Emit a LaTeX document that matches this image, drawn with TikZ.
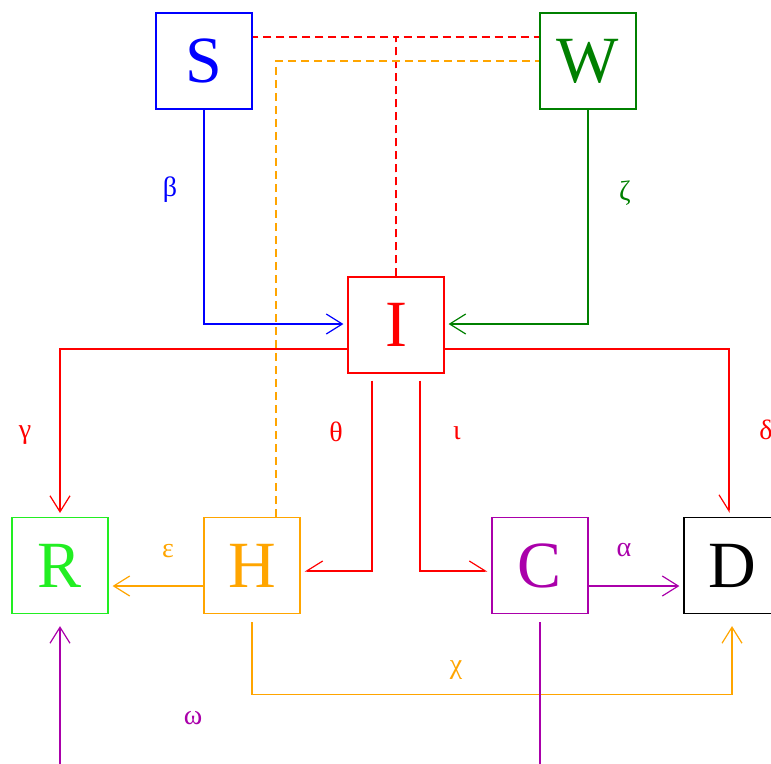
\documentclass[tikz,border=0pt]{standalone}
\usepackage{fontspec}
\setmainfont{Liberation Serif}
\usetikzlibrary{arrows.meta,calc}
\definecolor{cblue}{RGB}{0,0,255}
\definecolor{cgreen}{RGB}{0,128,0}
\definecolor{cred}{RGB}{255,0,0}
\definecolor{clime}{RGB}{34,238,34}
\definecolor{corange}{RGB}{255,165,0}
\definecolor{cpurple}{RGB}{170,0,170}
\tikzset{
  box/.style={draw, line width=1.2pt, minimum size=96pt, inner sep=0pt, font=\fontsize{66}{66}\selectfont},
  conn/.style={line width=1.2pt},
  arr/.style={conn, -{Straight Barb[length=16pt,width=20pt,line width=1.2pt]}, shorten >=4pt},
  harrL/.style={conn, -{Straight Barb[length=16pt,width=20pt,line width=1.2pt,left]}, shorten >=4pt},
  harrR/.style={conn, -{Straight Barb[length=16pt,width=20pt,line width=1.2pt,right]}, shorten >=4pt},
  dsh/.style={conn, dash pattern=on 8pt off 5pt},
  lbl/.style={font=\fontsize{28}{28}\selectfont, inner sep=0pt}
}
\begin{document}
\begin{tikzpicture}[x=1pt,y=-1pt]
\useasboundingbox (0,0) rectangle (771,763);
% nodes
\node[box, cblue] (S) at (204,61) {S};
\node[box, cgreen] (W) at (588,61) {W};
\node[box, cred] (I) at (396,325) {I};
\node[box, clime] (R) at (60,565.5) {R};
\node[box, corange] (H) at (252,565.5) {H};
\node[box, cpurple] (C) at (540,565.5) {C};
\node[box, black] (D) at (732,565.5) {D};
% dashed connectors
\draw[dsh, cred] (I.north) |- ($(S.east)+(0,-24)$);
\draw[dsh, cred] (I.north) |- ($(W.west)+(0,-24)$);
\draw[dsh, corange] ($(H.north)+(24,0)$) |- (W.west);
% solid connectors
\draw[arr, cblue] (S.south) |- ($(I.west)+(0,-1)$);
\draw[arr, cgreen] (W.south) |- ($(I.east)+(0,-1)$);
\draw[arr, cred] ($(I.west)+(0,24)$) -| (R.north);
\draw[harrR, cred] ($(I.east)+(0,24)$) -| ($(D.north)+(-3,0)$);
\draw[harrR, cred] ($(I.south)+(-24,7)$) |- ($(H.east)+(0,5.5)$);
\draw[harrL, cred] ($(I.south)+(24,7)$) |- ($(C.west)+(0,5.5)$);
\draw[arr, corange] ($(H.west)+(0,20.5)$) -- ($(R.east)+(0,20.5)$);
\draw[arr, cpurple] ($(C.east)+(0,20.5)$) -- ($(D.west)+(0,20.5)$);
\draw[arr, corange] ($(H.south)+(0,8)$) -- ++(0,72) -| ($(D.south)+(0,8)$);
\coordinate (cb) at (540,800);
\coordinate (rb) at (60,800);
\draw[arr, cpurple] ($(C.south)+(0,8)$) -- (cb) -- (rb) -- ($(R.south)+(0,8)$);
% labels
\node[lbl, cblue] (lb) at (170,190) {β};
\node[lbl, cgreen] (lz) at (625,193) {ζ};
\node[lbl, cred] (lg) at (25,435) {γ};
\node[lbl, cred] (ld) at (766,430) {δ};
\node[lbl, cred] (lt) at (336,432) {θ};
\node[lbl, cred] (li) at (457,433) {ι};
\node[lbl, corange] (le) at (168,551) {ε};
\node[lbl, cpurple] (la) at (624,550) {α};
\node[lbl, corange] (lc) at (456,670) {χ};
\node[lbl, cpurple] (lw) at (193,718) {ω};
\end{tikzpicture}
\end{document}
